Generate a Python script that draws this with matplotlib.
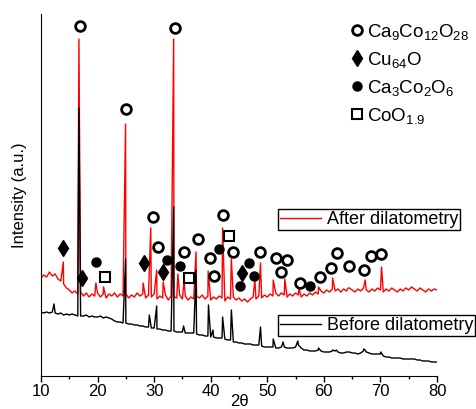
import numpy as np
import matplotlib.pyplot as plt
from matplotlib.lines import Line2D
from matplotlib.ticker import MultipleLocator

plt.rcParams['font.family'] = ['Liberation Sans', 'DejaVu Sans']
plt.rcParams['mathtext.fontset'] = 'custom'
plt.rcParams['mathtext.rm'] = 'Liberation Sans'
plt.rcParams['mathtext.it'] = 'Liberation Sans:italic'
plt.rcParams['mathtext.default'] = 'regular'

# 2theta grid of the background, 0.5 deg steps
two_theta = np.arange(10, 80.01, 0.5)

# background (arb. units)
after_base = [98, 101, 99, 104, 100, 102, 97, 95, 92, 88, 86, 83, 85, 82, 84, 80, 83, 79, 82, 80,
              83, 79, 82, 78, 82, 80, 83, 79, 82, 80, 82, 78, 81, 79, 83, 80, 82, 78, 81, 79,
              82, 77, 80, 78, 81, 76, 80, 79, 78, 81, 77, 80, 76, 79, 77, 80, 78, 81, 77, 80,
              76, 79, 77, 80, 78, 75, 79, 77, 79, 76, 78, 75, 77, 74, 77, 79, 77, 80, 78, 81,
              79, 82, 80, 83, 80, 83, 81, 79, 82, 80, 83, 81, 79, 82, 80, 83, 81, 84, 82, 85,
              83, 86, 84, 87, 85, 87, 84, 87, 85, 88, 86, 84, 87, 85, 88, 86, 84, 87, 85, 88,
              86, 84, 87, 85, 88, 86, 84, 87, 85, 88, 86, 89, 87, 85, 88, 86, 84, 87, 85, 87, 86]
before_base = [64, 63, 64, 63, 64, 63, 62, 63, 61, 62, 61, 62, 61, 60, 60, 60, 61, 59, 60, 59,
               59, 60, 58, 59, 58, 57, 55, 54, 54, 53, 53, 52, 52, 51, 51, 50, 50, 49, 49, 48,
               48, 47, 47, 46, 46, 45, 45, 45, 44, 44, 44, 43, 43, 43, 43, 42, 41, 41, 40, 40,
               39, 39, 38, 38, 38, 37, 36, 36, 34, 34, 33, 33, 32, 32, 32, 31, 31, 31, 30, 29,
               29, 29, 29, 28, 28, 29, 29, 28, 28, 28, 29, 31, 28, 26, 26, 25, 25, 25, 26, 25,
               24, 24, 24, 25, 25, 24, 23, 23, 24, 24, 23, 23, 22, 23, 25, 24, 23, 22, 22, 22,
               22, 20, 19, 19, 18, 18, 18, 18, 17, 17, 17, 17, 17, 16, 16, 15, 15, 15, 14, 14, 14]

# diffraction peaks: position and top
after_peak_pos = [13.95, 16.7, 19.7, 21.05, 24.95, 28.05, 29.4, 30.45, 31.6, 33.45, 34.2, 35.3,
                  37.4, 39.55, 42.1, 43.65, 47.8, 48.8, 51.05, 53.1, 55.6, 59.05, 61.55, 64.3,
                  67.3, 70.2]
after_peak_top = [114, 337, 93, 89, 252, 93, 148, 106, 94, 337, 102, 96,
                  124, 105, 148, 117, 96, 113, 96, 97, 88, 89, 98, 88,
                  96, 109]
before_peak_pos = [12.3, 16.7, 24.95, 29.15, 30.45, 33.45, 35.2, 37.4, 39.6, 40.4, 42.1, 43.65,
                   48.8, 51.05, 52.8, 55.4, 59.05, 61.55, 62.2, 64.3, 67.05, 67.3, 70.05, 75.8]
before_peak_top = [72, 268, 117, 61, 70, 169, 50, 106, 71, 46, 59, 66,
                   49, 37, 34, 35, 28, 26, 26, 24, 27, 26, 24, 17]

# phase markers
ca9_x = [16.89, 25.03, 33.69, 29.85, 30.74, 35.33, 37.70, 42.23, 39.93, 40.63, 43.99, 48.71,
         51.54, 53.43, 52.43, 55.84, 59.32, 61.26, 62.27, 64.50, 67.10, 68.34, 70.10]
ca9_y = [350, 267, 348, 159, 129, 124, 137, 161, 118, 100, 124, 124,
         118, 116, 104, 93, 99, 108, 123, 110, 106, 120, 122]
cu_x = [13.94, 17.30, 28.15, 31.62, 45.53]
cu_y = [128, 98, 113, 104, 103]
ca3_x = [19.67, 32.27, 34.57, 41.41, 45.18, 46.68, 47.71, 57.55]
ca3_y = [114, 116, 110, 127, 90, 113, 100, 90]
coo_x = [21.31, 36.21, 43.18]
coo_y = [99, 98, 140]


def pattern(base, pos, top):
    x = np.concatenate([two_theta, pos])
    y = np.concatenate([base, top])
    order = np.argsort(x, kind='stable')
    return x[order], y[order]


fig = plt.figure(figsize=(4.76, 4.09), dpi=100)
ax = fig.add_axes([41 / 476, 33 / 409, 396 / 476, 362 / 409])

xa, ya = pattern(after_base, after_peak_pos, after_peak_top)
xb, yb = pattern(before_base, before_peak_pos, before_peak_top)
red_line, = ax.plot(xa, ya, color='red', lw=1.0)
black_line, = ax.plot(xb, yb, color='black', lw=1.0)

ax.plot(ca9_x, ca9_y, 'o', ms=7, mfc='none', mec='black', mew=2)
ax.plot(cu_x, cu_y, 'd', ms=8, color='black')
ax.plot(ca3_x, ca3_y, 'o', ms=6.5, color='black')
ax.plot(coo_x, coo_y, 's', ms=7, mfc='white', mec='black', mew=1.5)

ax.set_xlim(10, 80)
ax.set_ylim(0, 362)
ax.set_yticks([])
ax.xaxis.set_major_locator(MultipleLocator(10))
ax.xaxis.set_minor_locator(MultipleLocator(5))
ax.tick_params(axis='x', which='major', length=4, width=1, labelsize=12, pad=2)
ax.tick_params(axis='x', which='minor', length=2.5, width=1)
for s in ['top', 'right']:
    ax.spines[s].set_visible(False)
ax.set_xlabel('2θ', fontsize=12, labelpad=-4)
ax.set_ylabel('Intensity (a.u.)', fontsize=12, labelpad=10)

phase_handles = [
    Line2D([], [], ls='none', marker='o', ms=7, mfc='none', mec='black', mew=2),
    Line2D([], [], ls='none', marker='d', ms=8, color='black'),
    Line2D([], [], ls='none', marker='o', ms=6.5, color='black'),
    Line2D([], [], ls='none', marker='s', ms=7, mfc='white', mec='black', mew=1.5),
]
phase_labels = [r'Ca$_9$Co$_{12}$O$_{28}$', r'Cu$_{64}$O', r'Ca$_3$Co$_2$O$_6$', r'CoO$_{1.9}$']
leg0 = ax.legend(phase_handles, phase_labels, loc='upper left', bbox_to_anchor=(351 / 476, 1 - 22 / 409),
                 bbox_transform=fig.transFigure, frameon=False, fontsize=13.5, handlelength=0.6,
                 handletextpad=0.25, labelspacing=0.42, borderpad=0, borderaxespad=0)
ax.add_artist(leg0)

leg1 = ax.legend([red_line], ['After dilatometry'], loc='upper left',
                 bbox_to_anchor=(277.5 / 476, 1 - 209 / 409), bbox_transform=fig.transFigure,
                 fontsize=13, fancybox=False, edgecolor='black', framealpha=1, handlelength=2.3,
                 handletextpad=0.3, borderpad=0.12, borderaxespad=0)
leg1.get_frame().set_linewidth(1)
ax.add_artist(leg1)

leg2 = ax.legend([black_line], ['Before dilatometry'], loc='upper left',
                 bbox_to_anchor=(277.5 / 476, 1 - 315 / 409), bbox_transform=fig.transFigure,
                 fontsize=13, fancybox=False, edgecolor='black', framealpha=1, handlelength=2.3,
                 handletextpad=0.3, borderpad=0.12, borderaxespad=0)
leg2.get_frame().set_linewidth(1)

fig.savefig('out.png', dpi=100)
